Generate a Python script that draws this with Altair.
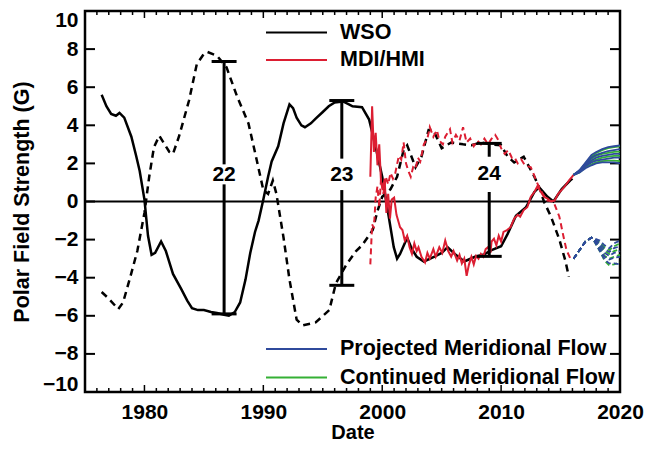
import altair as alt
import pandas as pd

FONT = "Liberation Sans"

# ---------------- data ----------------
wso_solid_years = [1976.4, 1976.8, 1977.2, 1977.6, 1977.9, 1978.3, 1978.9, 1979.3, 1979.6, 1980.0,
                   1980.3, 1980.6, 1980.9, 1981.4, 1981.8, 1982.4, 1983.1, 1983.6, 1984.0, 1984.5,
                   1985.0, 1985.6, 1986.1, 1986.7, 1987.1, 1987.6, 1988.05, 1988.5, 1988.9, 1989.3,
                   1989.6, 1990.0, 1990.4, 1990.7, 1991.25, 1991.7, 1992.2, 1992.5, 1992.8, 1993.2,
                   1993.5, 1994.0, 1994.4, 1995.0, 1995.5, 1996.0, 1996.7, 1997.2, 1997.5, 1998.3,
                   1998.9, 1999.4, 2000.0, 2000.55, 2000.97, 2001.25, 2001.5, 2002.1, 2002.5, 2002.9,
                   2003.5, 2004.4, 2005.0, 2005.5, 2006.1, 2006.9, 2007.8, 2008.5, 2009.2, 2010.0,
                   2010.55, 2011.25, 2012.1, 2012.8, 2013.2, 2013.9, 2014.4, 2015.1, 2015.8, 2016.0]
wso_solid_vals = [5.6, 5.0, 4.6, 4.5, 4.65, 4.4, 3.4, 2.4, 1.6, 0.1,
                  -1.8, -2.8, -2.7, -2.1, -2.6, -3.8, -4.6, -5.2, -5.6, -5.7,
                  -5.7, -5.8, -5.85, -5.95, -6.0, -5.8, -5.3, -4.1, -2.7, -1.6,
                  -1.0, 0.1, 1.3, 2.1, 2.9, 4.1, 5.1, 4.9, 4.4, 4.0,
                  3.9, 4.1, 4.35, 4.7, 5.0, 5.2, 5.25, 5.1, 5.0, 4.95,
                  4.3, 3.0, 1.3, -0.8, -2.4, -3.0, -2.75, -1.9, -2.5, -2.9,
                  -3.15, -2.9, -2.7, -2.4, -2.75, -3.15, -2.9, -2.8, -2.55, -2.35,
                  -1.7, -0.75, -0.3, 0.5, 0.75, 0.25, 0.0, 0.65, 1.1, 1.2]

wso_dash_years = [1976.4, 1977.0, 1977.8, 1978.2, 1978.75, 1979.4, 1980.0, 1980.4, 1980.8, 1981.25,
                  1981.7, 1982.1, 1982.4, 1982.9, 1983.75, 1984.4, 1985.0, 1985.3, 1986.1, 1986.9,
                  1987.8, 1988.75, 1989.4, 1990.0, 1990.4, 1990.8, 1991.1, 1991.7, 1992.2, 1992.8,
                  1993.3, 1994.4, 1995.55, 1996.1, 1997.0, 1997.8, 1998.3, 1999.2, 1999.6, 2000.0,
                  2000.7, 2001.25, 2001.8, 2002.1, 2002.8, 2003.3, 2003.9, 2004.3, 2005.0, 2005.8,
                  2006.8, 2007.5, 2008.3, 2009.2, 2010.0, 2010.55, 2011.1, 2011.9, 2012.8, 2013.3,
                  2013.6, 2014.2, 2014.9, 2015.4, 2015.7]
wso_dash_vals = [-4.75, -5.1, -5.65, -5.3, -4.1, -2.6, -0.6, 1.3, 2.85, 3.45,
                 3.0, 2.6, 2.5, 3.4, 5.3, 7.2, 7.75, 7.85, 7.65, 7.05,
                 5.5, 4.1, 2.3, 0.6, 0.4, 1.1, 0.4, -1.9, -4.1, -6.2,
                 -6.5, -6.35, -5.7, -4.3, -3.3, -2.6, -2.3, -1.5, -0.5, 0.25,
                 0.65, 1.3, 2.7, 2.95, 1.8, 2.35, 3.75, 3.75, 2.8, 3.1,
                 3.0, 2.95, 3.1, 3.0, 2.95, 2.35, 2.05, 2.35, 1.3, 0.6,
                 0.0, -0.8, -2.0, -3.1, -3.95]

mdi_solid_years = [1999.0, 1999.15, 1999.3, 1999.45, 1999.6, 1999.75, 1999.9, 2000.05, 2000.2, 2000.35,
                   2000.5, 2000.65, 2000.8, 2001.0, 2001.2, 2001.5, 2001.7, 2001.9, 2002.1, 2002.3,
                   2002.5, 2002.7, 2002.9, 2003.05, 2003.3, 2003.6, 2003.8, 2004.0, 2004.3, 2004.5,
                   2004.8, 2005.05, 2005.3, 2005.55, 2005.8, 2006.0, 2006.3, 2006.5, 2006.7, 2006.9,
                   2007.1, 2007.3, 2007.5, 2007.7, 2007.9, 2008.1, 2008.3, 2008.5, 2008.7, 2008.9,
                   2009.1, 2009.2, 2009.4, 2009.6, 2009.8, 2010.0, 2010.2, 2010.5, 2010.8, 2011.1,
                   2011.4, 2011.6, 2011.9, 2012.2, 2012.5, 2012.8, 2013.05, 2013.3, 2013.6, 2013.9,
                   2014.2, 2014.5, 2014.8, 2015.3, 2015.7, 2016.1]
mdi_solid_vals = [1.3, 5.0, 2.6, 3.6, 1.9, 3.0, 1.0, 0.6, 1.2, -0.6,
                  0.4, -0.9, 0.1, 0.2, -0.7, -1.35, -1.5, -2.05, -1.8, -2.4,
                  -2.75, -2.2, -2.6, -2.4, -2.9, -3.2, -2.7, -3.0, -2.5, -2.9,
                  -2.4, -2.7, -2.05, -2.6, -2.9, -2.6, -3.1, -2.8, -3.25, -3.0,
                  -3.9, -3.3, -2.9, -3.3, -2.85, -3.0, -2.75, -2.9, -2.5, -2.4,
                  -2.7, -2.1, -1.95, -2.3, -1.8, -2.1, -1.6, -1.5, -1.35, -0.9,
                  -0.7, -0.8, -0.45, -0.3, 0.25, 0.5, 0.8, 0.55, 0.25, 0.15,
                  0.0, 0.05, 0.4, 0.75, 1.1, 1.4]

mdi_dash_years = [1999.0, 1999.15, 1999.3, 1999.45, 1999.6, 1999.75, 1999.9, 2000.1, 2000.3, 2000.5,
                  2000.7, 2000.9, 2001.1, 2001.4, 2001.6, 2001.8, 2002.0, 2002.2, 2002.4, 2002.6,
                  2002.8, 2003.0, 2003.2, 2003.5, 2003.8, 2004.0, 2004.3, 2004.6, 2004.8, 2005.1,
                  2005.3, 2005.7, 2005.9, 2006.2, 2006.5, 2006.8, 2007.1, 2007.4, 2007.7, 2008.0,
                  2008.3, 2008.6, 2008.9, 2009.2, 2009.5, 2009.7, 2010.0, 2010.3, 2010.6, 2010.9,
                  2011.1, 2011.4, 2011.7, 2012.0, 2012.5, 2013.05, 2013.5, 2013.9, 2014.4, 2014.9,
                  2015.25, 2015.5, 2015.9]
mdi_dash_vals = [-3.3, -1.2, -1.4, 0.2, 0.8, -0.3, 1.2, 0.4, 1.3, 0.9,
                 1.5, 1.2, 1.5, 2.4, 2.2, 3.1, 2.0, 1.6, 1.3, 1.8,
                 1.7, 2.3, 2.1, 3.0, 3.3, 3.9, 3.4, 3.75, 3.2, 3.0,
                 3.4, 3.8, 3.1, 3.5, 3.2, 3.9, 3.1, 3.3, 2.9, 3.2,
                 3.0, 3.3, 3.0, 3.3, 3.5, 3.3, 2.8, 2.5, 2.7, 2.3,
                 2.35, 2.0, 2.2, 1.9, 1.8, 0.95, 0.4, 0.05, 0.0, -0.8,
                 -1.85, -2.55, -3.1]

proj_up_years = [2016.1, 2016.6, 2017.1, 2017.6, 2018.0, 2018.5, 2019.0, 2019.5, 2020.0]
proj_up_blue = [
    [1.4, 1.65, 2.05, 2.45, 2.6, 2.75, 2.85, 2.9, 2.95],
    [1.4, 1.6, 1.95, 2.3, 2.45, 2.55, 2.65, 2.7, 2.75],
    [1.4, 1.58, 1.9, 2.15, 2.3, 2.4, 2.45, 2.5, 2.5],
    [1.4, 1.55, 1.85, 2.05, 2.15, 2.2, 2.25, 2.3, 2.3],
    [1.4, 1.52, 1.75, 1.9, 2.0, 2.05, 2.05, 2.05, 2.0],
]
proj_up_green = [
    [1.4, 1.62, 2.0, 2.35, 2.55, 2.7, 2.8, 2.85, 2.9],
    [1.4, 1.6, 1.9, 2.25, 2.4, 2.5, 2.55, 2.6, 2.62],
    [1.4, 1.56, 1.85, 2.1, 2.2, 2.3, 2.35, 2.4, 2.4],
    [1.4, 1.53, 1.8, 1.95, 2.05, 2.12, 2.15, 2.15, 2.12],
]
proj_dn_years = [2016.1, 2016.6, 2017.1, 2017.6, 2017.9, 2018.3, 2018.7, 2019.1, 2019.5, 2020.0]
proj_dn_blue = [
    [-3.0, -2.55, -2.1, -1.9, -1.95, -2.05, -2.3, -2.45, -2.2, -2.05],
    [-3.0, -2.55, -2.1, -1.9, -2.0, -2.2, -2.5, -2.65, -2.45, -2.35],
    [-3.0, -2.55, -2.1, -1.9, -2.05, -2.35, -2.7, -2.85, -2.7, -2.6],
    [-3.0, -2.55, -2.1, -1.9, -2.1, -2.5, -2.9, -3.05, -2.95, -2.9],
    [-3.0, -2.55, -2.1, -1.9, -2.15, -2.6, -3.05, -3.25, -3.25, -3.3],
]
proj_dn_green = [
    [-3.0, -2.55, -2.1, -1.9, -2.0, -2.15, -2.4, -2.55, -2.35, -2.2],
    [-3.0, -2.55, -2.1, -1.9, -2.05, -2.3, -2.6, -2.75, -2.6, -2.5],
    [-3.0, -2.55, -2.1, -1.9, -2.1, -2.45, -2.85, -3.0, -2.9, -2.8],
    [-3.0, -2.55, -2.1, -1.9, -2.15, -2.6, -3.1, -3.35, -3.3, -3.2],
]

cycle_names = ["22", "23", "24"]
cycle_years = [1986.7, 1996.6, 2009.0]
cycle_tops = [7.35, 5.3, 3.05]
cycle_bottoms = [-5.9, -4.4, -2.88]
cycle_gap_tops = [1.95, 2.25, 2.35]
cycle_gap_bottoms = [0.9, 0.6, 0.5]
cycle_label_vals = [1.4, 1.4, 1.45]

x_tick_labels = [1980, 1990, 2000, 2010, 2020]
y_tick_labels = list(range(-10, 11, 2))
minor_years = [y for y in range(1976, 2020) if y % 10 != 0]
major_years = [1980, 1990, 2000, 2010]
y_inner_ticks = [-8, -6, -4, -2, 0, 2, 4, 6, 8]

BLACK = "#000000"
RED = "#dc1e32"
BLUE = "#2f4a9c"
GREEN = "#35b035"

W, H = 535, 381

x_scale = alt.Scale(domain=[1975, 2020], nice=False, zero=False)
y_scale = alt.Scale(domain=[-10, 10], nice=False, zero=False)

x_axis = alt.Axis(values=x_tick_labels, format="d", ticks=False, domain=False, grid=False,
                  labelFont=FONT, labelFontWeight="bold", labelFontSize=21, labelColor="black",
                  labelPadding=9, labelOverlap=False, labelFlush=False, labelBound=False,
                  title="Date", titleFont=FONT, titleFontWeight="bold", titleFontSize=20,
                  titleColor="black", titlePadding=0)
y_axis = alt.Axis(values=y_tick_labels, ticks=False, domain=False, grid=False,
                  labelFont=FONT, labelFontWeight="bold", labelFontSize=21, labelColor="black",
                  labelPadding=7, labelOverlap=False, labelFlush=True, labelFlushOffset=2,
                  labelBound=False,
                  title="Polar Field Strength (G)", titleFont=FONT, titleFontWeight="bold",
                  titleFontSize=21.5, titleColor="black", titlePadding=9)


def X(field="year"):
    return alt.X(f"{field}:Q", scale=x_scale, axis=x_axis)


def Y(field="value"):
    return alt.Y(f"{field}:Q", scale=y_scale, axis=y_axis)


def series_df(years, vals):
    return pd.DataFrame({"year": years, "value": vals})


def bundle_df(years, lines):
    rows = []
    for i, line in enumerate(lines):
        for yv, v in zip(years, line):
            rows.append({"year": yv, "value": v, "line": i})
    return pd.DataFrame(rows)


layers = []

# zero line (carries the axes)
zero = alt.Chart(series_df([1975, 2020], [0, 0])).mark_line(color=BLACK, strokeWidth=2).encode(
    x=X(), y=Y())
layers.append(zero)

# inward tick marks
minor_df = pd.DataFrame({"year": minor_years})
major_df = pd.DataFrame({"year": major_years})
for df, ln in [(minor_df, 4), (major_df, 7)]:
    layers.append(alt.Chart(df).mark_rule(color=BLACK, strokeWidth=1.5).encode(
        x=X(), y=alt.value(H), y2=alt.value(H - ln)))
    layers.append(alt.Chart(df).mark_rule(color=BLACK, strokeWidth=1.5).encode(
        x=X(), y=alt.value(0), y2=alt.value(ln)))
ytick_df = pd.DataFrame({"value": y_inner_ticks})
layers.append(alt.Chart(ytick_df).mark_rule(color=BLACK, strokeWidth=2).encode(
    y=Y(), x=alt.value(0), x2=alt.value(10)))
layers.append(alt.Chart(ytick_df).mark_rule(color=BLACK, strokeWidth=2).encode(
    y=Y(), x=alt.value(W), x2=alt.value(W - 10)))

# WSO
layers.append(alt.Chart(series_df(wso_solid_years, wso_solid_vals)).mark_line(
    color=BLACK, strokeWidth=2.5).encode(x=X(), y=Y()))
layers.append(alt.Chart(series_df(wso_dash_years, wso_dash_vals)).mark_line(
    color=BLACK, strokeWidth=2.5, strokeDash=[7, 5]).encode(x=X(), y=Y()))

# MDI/HMI
layers.append(alt.Chart(series_df(mdi_solid_years, mdi_solid_vals)).mark_line(
    color=RED, strokeWidth=2).encode(x=X(), y=Y()))
layers.append(alt.Chart(series_df(mdi_dash_years, mdi_dash_vals)).mark_line(
    color=RED, strokeWidth=2, strokeDash=[6, 4]).encode(x=X(), y=Y()))

# projections
layers.append(alt.Chart(bundle_df(proj_up_years, proj_up_green)).mark_line(
    color=GREEN, strokeWidth=1.8).encode(x=X(), y=Y(), detail="line:N"))
layers.append(alt.Chart(bundle_df(proj_dn_years, proj_dn_green)).mark_line(
    color=GREEN, strokeWidth=1.8, strokeDash=[5, 3]).encode(x=X(), y=Y(), detail="line:N"))
layers.append(alt.Chart(bundle_df(proj_up_years, proj_up_blue)).mark_line(
    color=BLUE, strokeWidth=1.8).encode(x=X(), y=Y(), detail="line:N"))
layers.append(alt.Chart(bundle_df(proj_dn_years, proj_dn_blue)).mark_line(
    color=BLUE, strokeWidth=1.8, strokeDash=[5, 3]).encode(x=X(), y=Y(), detail="line:N"))

# cycle amplitude bars
cyc = pd.DataFrame({"name": cycle_names, "year": cycle_years, "top": cycle_tops,
                    "bottom": cycle_bottoms, "gtop": cycle_gap_tops, "gbot": cycle_gap_bottoms,
                    "lab": cycle_label_vals})
cyc["x0"] = cyc["year"] - 1.05
cyc["x1"] = cyc["year"] + 1.05
layers.append(alt.Chart(cyc).mark_rule(color=BLACK, strokeWidth=3).encode(
    x=X(), y=Y("top"), y2="gtop:Q"))
layers.append(alt.Chart(cyc).mark_rule(color=BLACK, strokeWidth=3).encode(
    x=X(), y=Y("gbot"), y2="bottom:Q"))
layers.append(alt.Chart(cyc).mark_rule(color=BLACK, strokeWidth=3).encode(
    x=X("x0"), x2="x1:Q", y=Y("top")))
layers.append(alt.Chart(cyc).mark_rule(color=BLACK, strokeWidth=3).encode(
    x=X("x0"), x2="x1:Q", y=Y("bottom")))
layers.append(alt.Chart(cyc).mark_text(font=FONT, fontWeight="bold", fontSize=21, color=BLACK,
                                       align="center", baseline="middle").encode(
    x=X(), y=Y("lab"), text="name:N"))

# legends
legend_items = [("WSO", BLACK, 21.5), ("MDI/HMI", RED, 49),
                ("Projected Meridional Flow", BLUE, 338), ("Continued Meridional Flow", GREEN, 366.5)]
for label, col, ypos in legend_items:
    ldf = pd.DataFrame({"label": [label]})
    layers.append(alt.Chart(ldf).mark_rule(color=col, strokeWidth=2).encode(
        x=alt.value(181), x2=alt.value(242), y=alt.value(ypos)))
    layers.append(alt.Chart(ldf).mark_text(font=FONT, fontWeight="bold", fontSize=21.5, color=BLACK,
                                           align="left", baseline="middle").encode(
        x=alt.value(255), y=alt.value(ypos), text="label:N"))

chart = alt.layer(*layers).properties(
    width=W, height=H, autosize="none",
    padding={"left": 77, "top": 3, "right": 24, "bottom": 50},
    background="white",
).configure_view(stroke="black", strokeWidth=2.5)

chart.save("out.html", embed_options={"renderer": "svg", "actions": False})
